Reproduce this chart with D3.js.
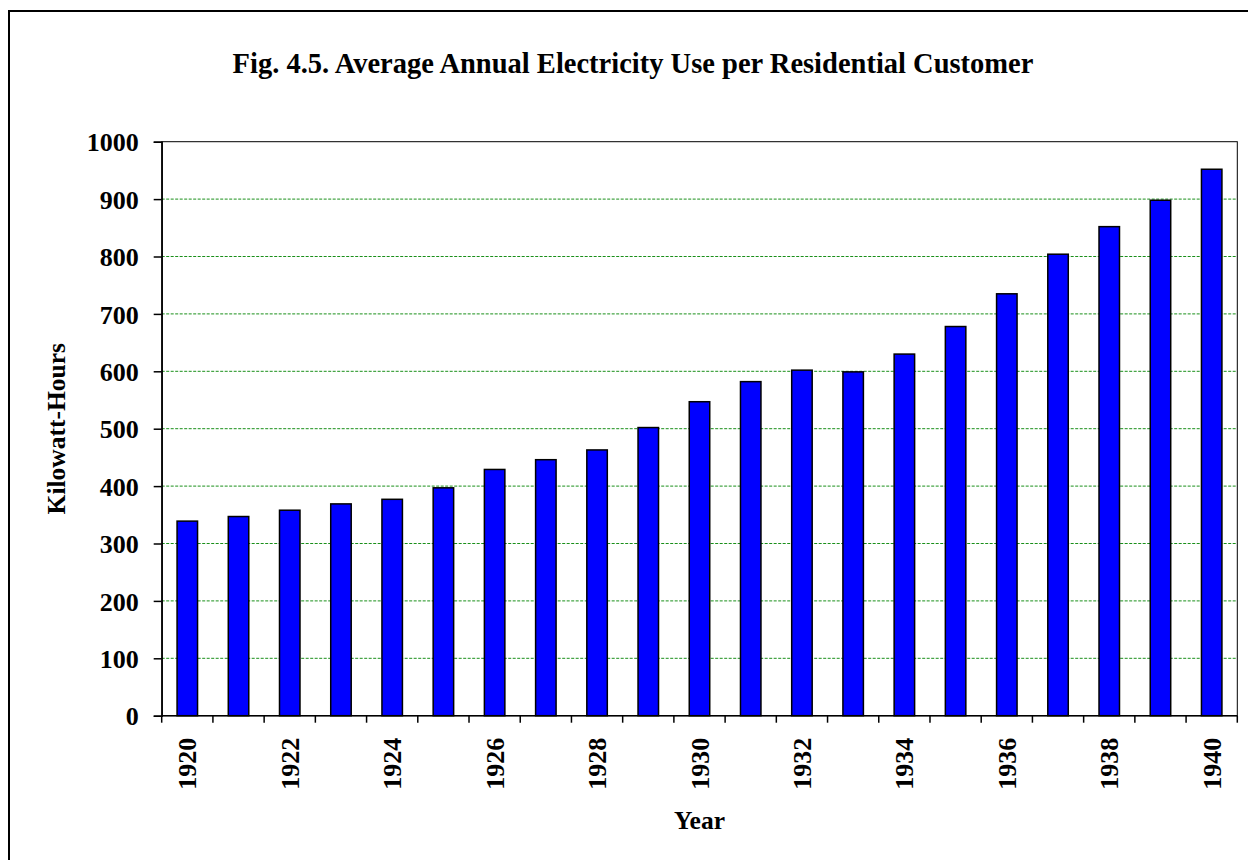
<!DOCTYPE html>
<html>
<head>
<meta charset="utf-8">
<script src="https://cdn.jsdelivr.net/npm/d3@7"></script>
<style>
  body { margin: 0; background: #fff; }
  text { font-family: "Liberation Serif", "Times New Roman", serif; font-weight: bold; fill: #000; }
</style>
</head>
<body>
<div id="chart"></div>
<script>
// data
var years = ["1920","1921","1922","1923","1924","1925","1926","1927","1928","1929","1930",
             "1931","1932","1933","1934","1935","1936","1937","1938","1939","1940"];
var kwh = [339, 347, 358, 369, 377, 397, 429, 446, 463, 502, 547,
           582, 602, 599, 630, 678, 735, 804, 852, 898, 952];
var yTicks = [0, 100, 200, 300, 400, 500, 600, 700, 800, 900, 1000];

var W = 1248, H = 860;
var margin = {top: 141.7, right: 10.7, bottom: 144.3, left: 161.7},
    width = W - margin.left - margin.right,
    height = H - margin.top - margin.bottom;

var svg = d3.select("#chart")
  .append("svg")
  .attr("width", W)
  .attr("height", H);

// outer frame (runs off the right and bottom edge)
svg.append("rect")
  .attr("x", 9).attr("y", 11)
  .attr("width", 1300).attr("height", 900)
  .attr("fill", "none")
  .attr("stroke", "#000")
  .attr("stroke-width", 2);

svg.append("text")
  .attr("x", 633)
  .attr("y", 73)
  .attr("text-anchor", "middle")
  .style("font-size", "28.5px")
  .text("Fig. 4.5. Average Annual Electricity Use per Residential Customer");

var g = svg.append("g")
  .attr("transform", "translate(" + margin.left + "," + margin.top + ")");

// scales
var x = d3.scaleBand()
  .domain(years)
  .range([0, width])
  .padding(0);

var y = d3.scaleLinear()
  .domain([0, 1000])
  .range([height, 0]);

// gridlines
g.selectAll(".grid")
  .data(yTicks.filter(d => d > 0 && d < 1000))
  .enter()
  .append("line")
  .attr("class", "grid")
  .attr("x1", 0)
  .attr("x2", width)
  .attr("y1", d => y(d))
  .attr("y2", d => y(d))
  .attr("stroke", "#1a8f1a")
  .attr("stroke-width", 1)
  .attr("stroke-dasharray", "3,1.5");

// plot frame top + right
g.append("rect")
  .attr("x", 0).attr("y", 0)
  .attr("width", width).attr("height", height)
  .attr("fill", "none")
  .attr("stroke", "#000")
  .attr("stroke-width", 1);

// bars
var bw = x.bandwidth() * 0.4;
g.selectAll(".bar")
  .data(years)
  .enter()
  .append("rect")
  .attr("class", "bar")
  .attr("x", d => x(d) + (x.bandwidth() - bw) / 2)
  .attr("y", (d, i) => y(kwh[i]))
  .attr("width", bw)
  .attr("height", (d, i) => height - y(kwh[i]))
  .attr("fill", "#0000ff")
  .attr("stroke", "#000")
  .attr("stroke-width", 1.5);

// y axis
var yAxis = g.append("g")
  .call(d3.axisLeft(y).tickValues(yTicks).tickFormat(d3.format("d")).tickSize(8).tickPadding(15));
yAxis.select(".domain").attr("stroke", "#000").attr("stroke-width", 1.5);
yAxis.selectAll("line").attr("stroke", "#000").attr("stroke-width", 1.5);
yAxis.selectAll("text")
  .style("font-size", "26px")
  .style("font-family", "Liberation Serif, serif")
  .style("font-weight", "bold")
  .attr("dy", "0.35em");

// x axis: ticks on the band edges, labels on every other year
var xAxis = g.append("g")
  .attr("transform", "translate(0," + height + ")");
xAxis.append("line")
  .attr("x1", 0).attr("x2", width)
  .attr("stroke", "#000").attr("stroke-width", 1.5);
xAxis.selectAll(".xt")
  .data(years.concat(["end"]))
  .enter()
  .append("line")
  .attr("class", "xt")
  .attr("x1", d => d === "end" ? width : x(d))
  .attr("x2", d => d === "end" ? width : x(d))
  .attr("y1", 0)
  .attr("y2", 7)
  .attr("stroke", "#000")
  .attr("stroke-width", 1.5);
xAxis.selectAll(".xl")
  .data(years.filter((d, i) => i % 2 === 0))
  .enter()
  .append("text")
  .attr("class", "xl")
  .attr("transform", d => "translate(" + (x(d) + x.bandwidth() / 2) + ",22) rotate(-90)")
  .attr("text-anchor", "end")
  .attr("dy", "0.35em")
  .style("font-size", "26px")
  .text(d => d);

// axis titles
svg.append("text")
  .attr("transform", "translate(65," + (margin.top + height / 2) + ") rotate(-90)")
  .attr("text-anchor", "middle")
  .style("font-size", "25.5px")
  .text("Kilowatt-Hours");

svg.append("text")
  .attr("x", margin.left + width / 2)
  .attr("y", 829)
  .attr("text-anchor", "middle")
  .style("font-size", "25.5px")
  .text("Year");
</script>
</body>
</html>
